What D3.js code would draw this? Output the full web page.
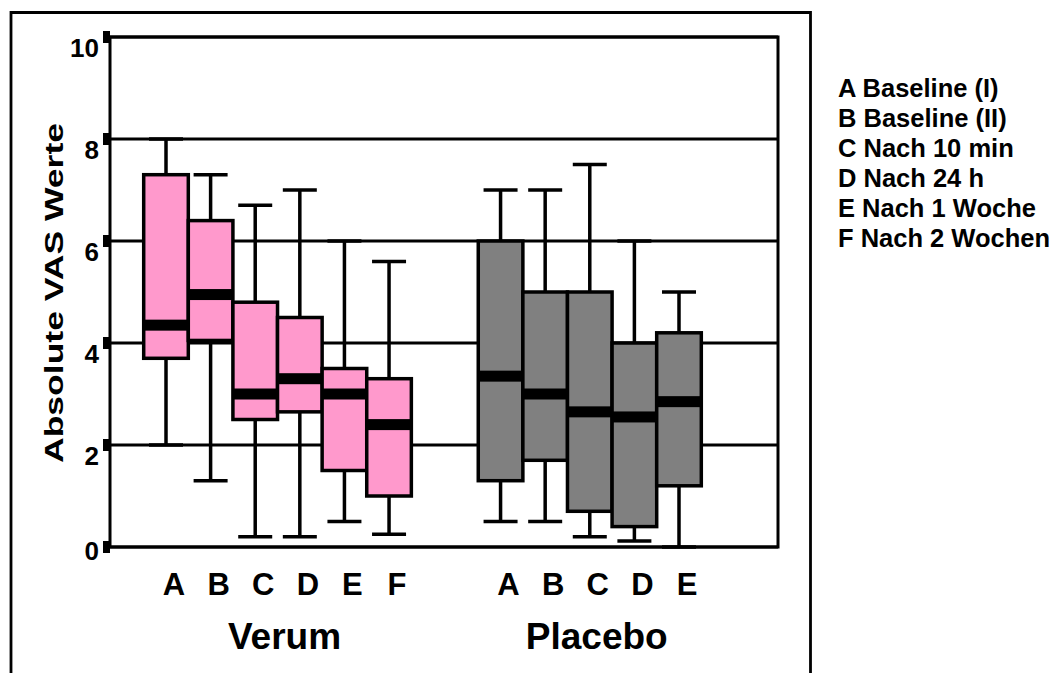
<!DOCTYPE html>
<meta charset="utf-8">
<script src="https://d3js.org/d3.v7.min.js"></script>
<style>
  body { margin: 0; background: #fff; }
  text { font-family: "Liberation Sans", Arial, Helvetica, sans-serif; }
</style>
<div id="chart"></div>
<script>

// values (VAS 0-10)
var verumCodes = ["A", "B", "C", "D", "E", "F"];
var verumMin = [2.0, 1.3, 0.2, 0.2, 0.5, 0.25];
var verumQ1  = [3.7, 4.05, 2.5, 2.65, 1.5, 1.0];
var verumMed = [4.35, 4.95, 3.0, 3.3, 3.0, 2.4];
var verumQ3  = [7.3, 6.4, 4.8, 4.5, 3.5, 3.3];
var verumMax = [8.0, 7.3, 6.7, 7.0, 6.0, 5.6];

var placeboCodes = ["A", "B", "C", "D", "E"];
var placeboMin = [0.5, 0.5, 0.2, 0.12, 0.0];
var placeboQ1  = [1.3, 1.7, 0.7, 0.4, 1.2];
var placeboMed = [3.35, 3.0, 2.65, 2.55, 2.85];
var placeboQ3  = [6.0, 5.0, 5.0, 4.0, 4.2];
var placeboMax = [7.0, 7.0, 7.5, 6.0, 5.0];

var yTicks = [0, 2, 4, 6, 8, 10];
var legendItems = ["A Baseline (I)", "B Baseline (II)", "C Nach 10 min",
                   "D Nach 24 h", "E Nach 1 Woche", "F Nach 2 Wochen"];

var W = 1061, H = 673;
var plot = {left: 110, right: 778, top: 37, bottom: 547};

var svg = d3.select("#chart")
  .append("svg")
    .attr("width", W)
    .attr("height", H);

// outer frame (open at the bottom, runs off the page)
svg.append("path")
  .attr("d", "M11,680 L11,12.5 L810.5,12.5 L810.5,680")
  .attr("fill", "none")
  .attr("stroke", "black")
  .attr("stroke-width", 2.8);

var y = d3.scaleLinear()
  .domain([0, 10])
  .range([plot.bottom, plot.top]);

// slot positions: Verum 0..5, Placebo 7.5..11.5
var x = d3.scaleLinear()
  .domain([0, 11.5])
  .range([166, 679]);
var slot = x(1) - x(0);

function build(codes, mn, q1, med, q3, mx, start, fill) {
  return codes.map(function(c, i) {
    return {code: c, pos: start + i, min: mn[i], q1: q1[i], med: med[i], q3: q3[i], max: mx[i], fill: fill};
  });
}
var boxes = build(verumCodes, verumMin, verumQ1, verumMed, verumQ3, verumMax, 0, "#ff99cc")
  .concat(build(placeboCodes, placeboMin, placeboQ1, placeboMed, placeboQ3, placeboMax, 7.5, "#808080"));

// gridlines
svg.selectAll(".grid")
  .data(yTicks)
  .enter().append("line")
    .attr("x1", plot.left)
    .attr("x2", plot.right)
    .attr("y1", function(d) { return y(d); })
    .attr("y2", function(d) { return y(d); })
    .attr("stroke", "black")
    .attr("stroke-width", 3);

// plot frame
svg.append("rect")
  .attr("x", plot.left)
  .attr("y", plot.top)
  .attr("width", plot.right - plot.left)
  .attr("height", plot.bottom - plot.top)
  .attr("fill", "none")
  .attr("stroke", "black")
  .attr("stroke-width", 3);

// tick squares + labels
svg.selectAll(".tick")
  .data(yTicks)
  .enter().append("rect")
    .attr("x", plot.left - 7)
    .attr("y", function(d) { return y(d) - 6; })
    .attr("width", 7)
    .attr("height", 12)
    .attr("fill", "black");

svg.selectAll(".ylab")
  .data(yTicks)
  .enter().append("text")
    .attr("x", 99)
    .attr("y", function(d) { return y(d) + (d === 0 ? 13 : 20); })
    .attr("text-anchor", "end")
    .style("font-size", "26px")
    .style("font-weight", "bold")
    .text(function(d) { return d; });

// y title
svg.append("text")
  .attr("transform", "translate(63,293) rotate(-90)")
  .attr("text-anchor", "middle")
  .attr("textLength", 340)
  .attr("lengthAdjust", "spacingAndGlyphs")
  .style("font-size", "25px")
  .style("font-weight", "bold")
  .text("Absolute VAS Werte");

// whiskers
var capW = 34;
var g = svg.append("g");
g.selectAll(".whisker")
  .data(boxes)
  .enter().append("line")
    .attr("x1", function(d) { return x(d.pos); })
    .attr("x2", function(d) { return x(d.pos); })
    .attr("y1", function(d) { return y(d.min); })
    .attr("y2", function(d) { return y(d.max); })
    .attr("stroke", "black")
    .attr("stroke-width", 3.5);

["min", "max"].forEach(function(k) {
  g.selectAll(".cap-" + k)
    .data(boxes)
    .enter().append("line")
      .attr("x1", function(d) { return x(d.pos) - capW / 2; })
      .attr("x2", function(d) { return x(d.pos) + capW / 2; })
      .attr("y1", function(d) { return y(d[k]); })
      .attr("y2", function(d) { return y(d[k]); })
      .attr("stroke", "black")
      .attr("stroke-width", 3.5);
});

// boxes
g.selectAll(".box")
  .data(boxes)
  .enter().append("rect")
    .attr("x", function(d) { return x(d.pos) - slot / 2; })
    .attr("y", function(d) { return y(d.q3); })
    .attr("width", slot)
    .attr("height", function(d) { return y(d.q1) - y(d.q3); })
    .attr("fill", function(d) { return d.fill; })
    .attr("stroke", "black")
    .attr("stroke-width", 3.5);

// median bars
g.selectAll(".median")
  .data(boxes)
  .enter().append("rect")
    .attr("x", function(d) { return x(d.pos) - slot / 2; })
    .attr("y", function(d) { return y(d.med) - 5.5; })
    .attr("width", slot)
    .attr("height", 11)
    .attr("fill", "black");

// category letters
svg.selectAll(".xlab")
  .data(boxes)
  .enter().append("text")
    .attr("x", function(d) { return x(d.pos) + 8; })
    .attr("y", 595)
    .attr("text-anchor", "middle")
    .style("font-size", "31px")
    .style("font-weight", "bold")
    .text(function(d) { return d.code; });

// group labels
var groupLabels = [
  {name: "Verum", pos: d3.mean(boxes.slice(0, 6), function(d) { return d.pos; })},
  {name: "Placebo", pos: d3.mean(boxes.slice(6), function(d) { return d.pos; })}
];
svg.selectAll(".glab")
  .data(groupLabels)
  .enter().append("text")
    .attr("x", function(d) { return x(d.pos) + 7; })
    .attr("y", 649)
    .attr("text-anchor", "middle")
    .style("font-size", "37px")
    .style("font-weight", "bold")
    .text(function(d) { return d.name; });

// legend
svg.selectAll(".legend")
  .data(legendItems)
  .enter().append("text")
    .attr("x", 838)
    .attr("y", function(d, i) { return 97 + i * 30; })
    .style("font-size", "25.5px")
    .style("font-weight", "bold")
    .text(function(d) { return d; });

</script>
